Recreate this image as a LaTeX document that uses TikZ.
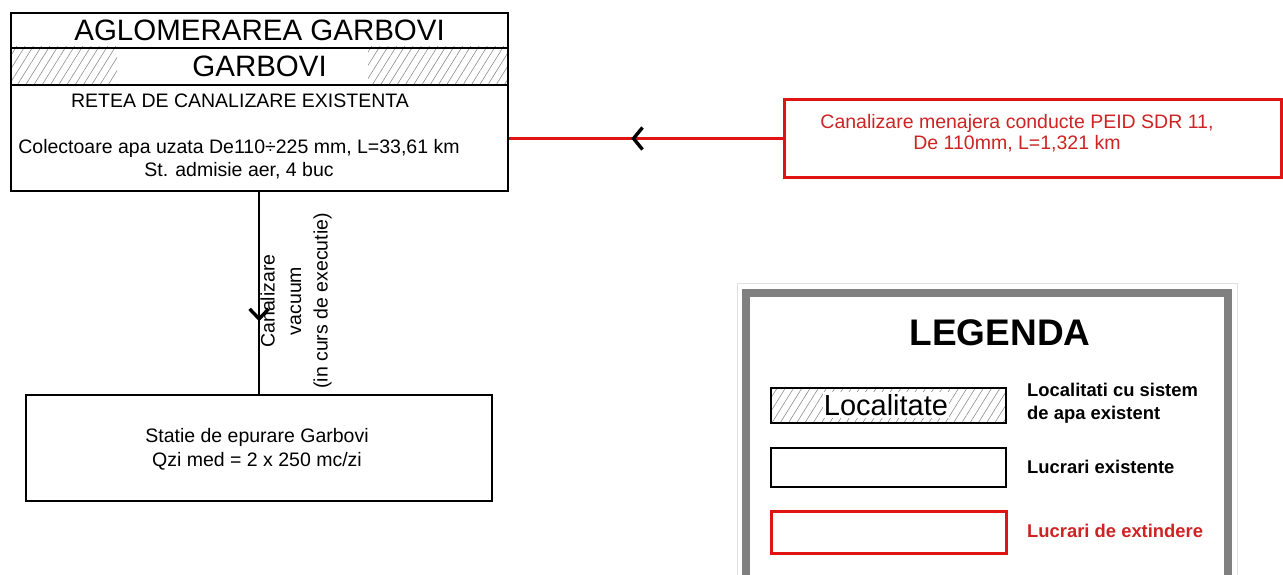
\documentclass[tikz,border=0pt]{standalone}
\usepackage{fontspec}
\setmainfont{Liberation Sans}
\usetikzlibrary{patterns.meta,decorations.markings,arrows.meta}
\definecolor{cred}{RGB}{225,20,20}
\definecolor{ctred}{RGB}{205,35,35}
\definecolor{frame}{RGB}{128,128,128}
\definecolor{hatchc}{RGB}{140,140,140}
\begin{document}
\begin{tikzpicture}[x=1pt,y=-1pt,
  box/.style={draw=black, line width=2.2pt, inner sep=0pt, anchor=north west},
  redbox/.style={draw=cred, line width=3pt, inner sep=0pt, anchor=north west},
  hatch/.style={pattern={Lines[angle=58,distance=7pt,line width=0.6pt]}, pattern color=hatchc},
  body/.style={font=\fontsize{19.5}{23.5}\selectfont, align=center, inner sep=0pt},
  title/.style={font=\fontsize{29.5}{34}\selectfont, inner sep=0pt},
  leg/.style={font=\bfseries\fontsize{18.4}{23}\selectfont, align=left, anchor=west, inner sep=0pt},
  chev/.style={line width=3.4pt, black}
]
\useasboundingbox (0,0) rectangle (1283,575);

% ---- top box ----
\fill[hatch] (10,47) rectangle (117,84);
\fill[hatch] (368,47) rectangle (507,84);
\node[box, minimum width=497, minimum height=35] (agl) at (10,12) {};
\node[title] (aglt) at (agl.center) {AGLOMERAREA GARBOVI};
\node[box, minimum width=497, minimum height=37] (garb) at (10,47) {};
\node[title] (garbt) at (garb.center) {GARBOVI};
\node[box, minimum width=497, minimum height=106] (net) at (10,84) {};
\node[body] (nett) at (240,101) {RETEA DE CANALIZARE EXISTENTA};
\node[body] (col) at (239,159) {Colectoare apa uzata De110÷225 mm, L=33,61 km\\St. admisie aer, 4 buc};

% ---- treatment plant ----
\node[box, minimum width=466, minimum height=106] (st) at (25,394) {};
\node[body] (stt) at (257,449.5) {Statie de epurare Garbovi\\Qzi med = 2 x 250 mc/zi};

% ---- vertical connector ----
\draw[line width=2.4pt, postaction={decorate},
  decoration={markings, mark=at position 0.64 with {\arrow[chev]{Straight Barb[length=10pt,width=19pt]}}}]
  (net.south -| st.north) -- (st.north);
\node[body, rotate=90, font=\fontsize{19.5}{26.5}\selectfont] (vac) at (296,301) {Canalizare\\vacuum\\(in curs de executie)};

% ---- red extension ----
\node[redbox, minimum width=497, minimum height=78] (rb) at (783,98) {};
\node[body, text=ctred, font=\fontsize{19.5}{21.5}\selectfont] (rbt) at (1017,133) {Canalizare menajera conducte PEID SDR 11,\\De 110mm, L=1,321 km};
\draw[cred, line width=2.8pt, postaction={decorate},
  decoration={markings, mark=at position 0.554 with {\arrow[chev]{Straight Barb[length=9pt,width=22pt]}}}]
  (rb.west) -- (rb.west -| net.east);

% ---- legend ----
\draw[black!12, line width=1pt] (737,283) rectangle (1237,600);
\draw[frame, line width=8pt] (746,293) rectangle (1228,600);
\node[font=\bfseries\fontsize{37}{42}\selectfont, inner sep=0pt] (legt) at (1000,333) {LEGENDA};

\fill[hatch] (770,387) rectangle (1005,422);
\node[box, line width=1.8pt, minimum width=235, minimum height=35] (l1) at (770,387) {};
\node[title, fill=white, inner xsep=1pt, inner ysep=2pt, font=\fontsize{29}{34}\selectfont] (l1t) at (886,405) {Localitate};
\node[box, line width=1.8pt, minimum width=235, minimum height=39] (l2) at (770,447) {};
\node[redbox, line width=3.2pt, minimum width=235, minimum height=42] (l3) at (770,510) {};

\node[leg] (d1) at (1027,403) {Localitati cu sistem\\de apa existent};
\node[leg] (d2) at (1027,467) {Lucrari existente};
\node[leg, text=ctred] (d3) at (1027,531) {Lucrari de extindere};
\end{tikzpicture}
\end{document}
